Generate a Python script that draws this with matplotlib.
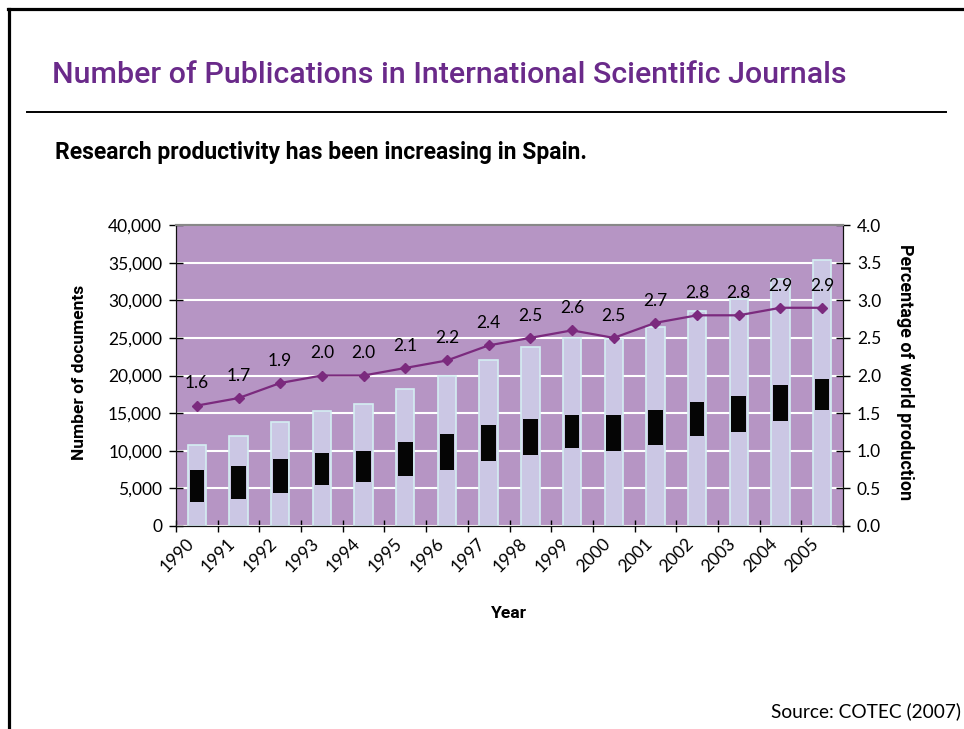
import matplotlib
matplotlib.use("Agg")
import matplotlib.pyplot as plt
import matplotlib.transforms as mtransforms
from matplotlib.lines import Line2D
from matplotlib.ticker import FuncFormatter, MultipleLocator

years = ["1990", "1991", "1992", "1993", "1994", "1995", "1996", "1997",
         "1998", "1999", "2000", "2001", "2002", "2003", "2004", "2005"]
documents = [10700, 12000, 13800, 15250, 16250, 18200, 20000, 22000,
             23800, 25000, 24900, 26500, 28600, 30100, 32800, 35300]
band_low = [3250, 3650, 4450, 5500, 5900, 6700, 7500, 8700,
            9500, 10300, 10000, 10700, 12000, 12550, 14000, 15400]
band_high = [7450, 8000, 8900, 9700, 10000, 11200, 12250, 13450,
             14200, 14700, 14700, 15450, 16450, 17250, 18700, 19500]
world_pct = [1.6, 1.7, 1.9, 2.0, 2.0, 2.1, 2.2, 2.4,
             2.5, 2.6, 2.5, 2.7, 2.8, 2.8, 2.9, 2.9]

W, H = 964, 729
fig = plt.figure(figsize=(W / 100, H / 100), dpi=100)

head = ["Roboto", "DejaVu Sans"]
light = ["Lato", "DejaVu Sans"]

def fx(px):
    return px / W

def fy(py):
    return 1 - py / H

def fit(txt, target, vertical=False):
    # shrink/grow a text so it spans target pixels
    r = fig.canvas.get_renderer()
    bb = txt.get_window_extent(renderer=r)
    size = bb.height if vertical else bb.width
    txt.set_fontsize(txt.get_fontsize() * target / size)

# frame and rule
fig.add_artist(Line2D([fx(8.5), fx(8.5)], [fy(8.5), 0], color="black", lw=2.3))
fig.add_artist(Line2D([fx(7.5), 1], [fy(8.5), fy(8.5)], color="black", lw=2.3))
fig.add_artist(Line2D([fx(27), fx(946)], [fy(112), fy(112)], color="black", lw=1.4))

title = fig.text(fx(52), fy(75), "Number of Publications in International Scientific Journals",
                 color="#6a2a8a", fontsize=22, family=head, fontweight="medium",
                 va="center", ha="left")
sub = fig.text(fx(55), fy(152), "Research productivity has been increasing in Spain.",
               color="black", fontsize=15, family=head, fontweight="bold",
               va="center", ha="left")
src = fig.text(fx(961), fy(711), "Source: COTEC (2007)", fontsize=13, family=light,
               va="center", ha="right")
fit(title, 794)
fit(sub, 535)
fit(src, 190)

ax = fig.add_axes([fx(176), fy(526), fx(843) - fx(176), fy(225) - fy(526)])
ax.set_facecolor("#b695c4")
x = list(range(len(years)))

ax.bar(x, documents, width=0.44, color="#cbc7e4", edgecolor="#d4eef2", linewidth=1.2, zorder=2)
ax.bar(x, [h - l for h, l in zip(band_high, band_low)], bottom=band_low,
       width=0.35, color="#050505", zorder=3)

ax.set_ylim(0, 40000)
ax.set_xlim(-0.5, len(years) - 0.5)
ax.yaxis.set_major_locator(MultipleLocator(5000))
ax.yaxis.set_major_formatter(FuncFormatter(lambda v, p: f"{int(v):,}"))
ax.grid(axis="y", color="white", lw=1.5, zorder=1)
ax.set_axisbelow(True)

ax.set_xticks([i - 0.5 for i in range(len(years) + 1)])
ax.set_xticklabels([])
ax.set_xticks(x, minor=True)
ax.set_xticklabels(years, minor=True, rotation=45, ha="right", va="top",
                   fontsize=12.5, family=light)
off = mtransforms.ScaledTranslation(-5 / 100, 0, fig.dpi_scale_trans)
for lab in ax.xaxis.get_minorticklabels():
    lab.set_transform(lab.get_transform() + off)
ax.tick_params(axis="x", which="minor", length=0, pad=7)
ax.tick_params(axis="x", which="major", direction="inout", length=9, width=1)
ax.tick_params(axis="y", direction="inout", length=10, width=1, labelsize=12.5, pad=5)
for lab in ax.get_yticklabels():
    lab.set_family(light)

for s in ["left", "bottom", "right"]:
    ax.spines[s].set_color("#111111")
ax.spines["top"].set_color("#888888")
ax.spines["top"].set_linewidth(1.5)

ylab = fig.text(fx(80), fy(372), "Number of documents", rotation=90, fontsize=13,
                family=head, fontweight="bold", ha="center", va="center")
xlab = fig.text(fx(509), fy(613), "Year", fontsize=13, family=head, fontweight="bold",
                ha="center", va="center")
fit(ylab, 175, vertical=True)
fit(xlab, 36)

ax2 = ax.twinx()
ax2.set_ylim(0, 4.0)
ax2.yaxis.set_major_locator(MultipleLocator(0.5))
ax2.yaxis.set_major_formatter(FuncFormatter(lambda v, p: f"{v:.1f}"))
ax2.plot(x, world_pct, color="#7b2a7e", lw=1.6, marker="D", markersize=5, zorder=4)
for xi, v in zip(x, world_pct):
    ax2.annotate(f"{v:.1f}", (xi, v), xytext=(0, 16), textcoords="offset points",
                 ha="center", va="center", fontsize=12.5, family=light)
ax2.tick_params(axis="y", direction="inout", length=10, width=1, labelsize=12.5, pad=5)
for lab in ax2.get_yticklabels():
    lab.set_family(light)
rlab = fig.text(fx(905), fy(372), "Percentage of world production", rotation=270,
                fontsize=13, family=head, fontweight="bold", ha="center", va="center")
fit(rlab, 255, vertical=True)
for s in ["left", "bottom", "right"]:
    ax2.spines[s].set_color("#111111")
ax2.spines["top"].set_color("#888888")
ax2.spines["top"].set_linewidth(1.5)

fig.savefig("out.png", dpi=100)
